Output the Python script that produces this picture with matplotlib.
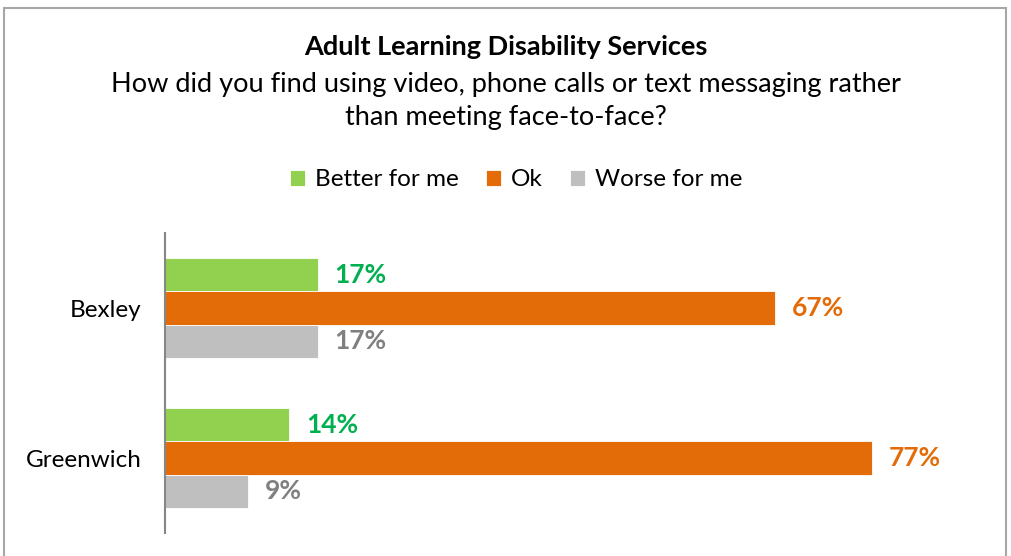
import matplotlib
matplotlib.use("Agg")
import matplotlib.pyplot as plt
from matplotlib.patches import Rectangle

categories = ["Bexley", "Greenwich"]
series_names = ["Better for me", "Ok", "Worse for me"]
better = [0.167, 0.136]
ok = [0.667, 0.773]
worse = [0.167, 0.091]
labels_better = ["17%", "14%"]
labels_ok = ["67%", "77%"]
labels_worse = ["17%", "9%"]

bar_colors = ["#92D050", "#E36C09", "#BFBFBF"]
text_colors = ["#00B050", "#E36C09", "#808080"]

plt.rcParams['font.family'] = ['Lato', 'DejaVu Sans']

W, H = 1011, 556
fig = plt.figure(figsize=(W / 100, H / 100), dpi=100)

# outer border
fig.patches.append(Rectangle((4 / W, -0.02), (1006 - 4) / W, 1.02 - 8 / H,
                             transform=fig.transFigure, fill=False,
                             edgecolor="#A6A6A6", linewidth=1.5))

ax_left, ax_right = 165, 988.5
ax_top, ax_bottom = 233, 533
ax = fig.add_axes([ax_left / W, 1 - ax_bottom / H, (ax_right - ax_left) / W, (ax_bottom - ax_top) / H])

bh = 0.222
ys = list(range(len(categories)))
series = [better, ok, worse]
labels = [labels_better, labels_ok, labels_worse]
for i, (vals, labs) in enumerate(zip(series, labels)):
    pos = [y + (i - 1) * bh for y in ys]
    ax.barh(pos, vals, height=bh, color=bar_colors[i], label=series_names[i],
            edgecolor="white", linewidth=0.6)
    for p, v, lab in zip(pos, vals, labs):
        ax.text(v + 0.018, p, lab, va="center", ha="left", fontsize=19,
                fontweight="bold", color=text_colors[i])

ax.set_xlim(0, 0.9)
ax.set_ylim(1.5, -0.5)
ax.set_yticks(ys)
ax.set_yticklabels(categories, fontsize=17.5)
ax.tick_params(axis="y", length=0, pad=17)
ax.set_xticks([])
for s in ["top", "right", "bottom"]:
    ax.spines[s].set_visible(False)
ax.spines["left"].set_color("#868686")
ax.spines["left"].set_linewidth(1.5)

fig.text(0.5, 1 - 47 / H, "Adult Learning Disability Services", ha="center", va="center",
         fontsize=19.5, fontweight="bold")
fig.text(0.5, 1 - 101 / H, "How did you find using video, phone calls or text messaging rather\nthan meeting face-to-face?",
         ha="center", va="center", fontsize=19.5, linespacing=1.4)

handles, lbls = ax.get_legend_handles_labels()
fig.legend(handles, lbls, loc="center", bbox_to_anchor=(516 / W, 1 - 180 / H), ncol=3,
           frameon=False, fontsize=17.5, handlelength=0.65, handleheight=0.65,
           handletextpad=0.4, columnspacing=1.1)

fig.savefig("out.png", dpi=100)
